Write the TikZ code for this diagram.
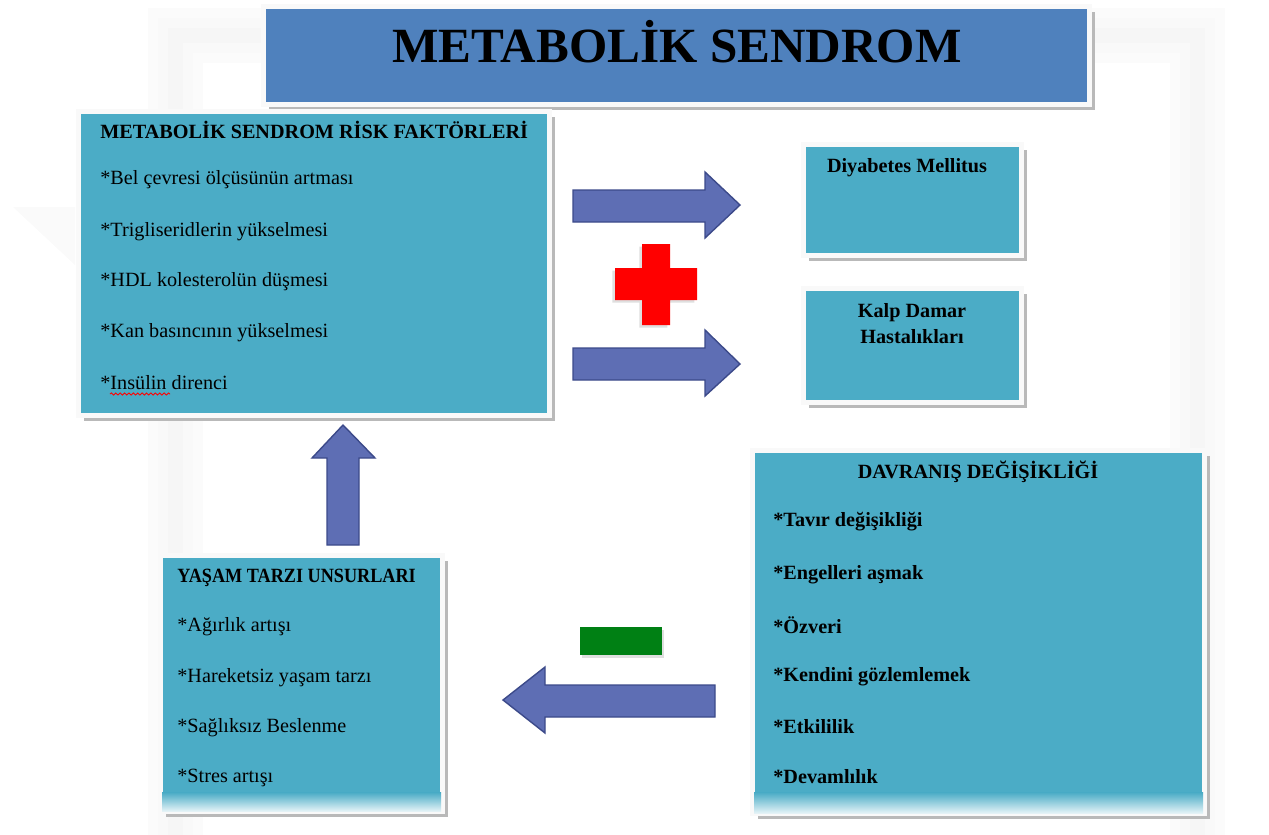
\documentclass[tikz,border=0pt]{standalone}
\usepackage{fontspec}
\setmainfont{Liberation Serif}
\newfontfamily\narrowserif[FakeStretch=0.9]{Liberation Serif}
\usetikzlibrary{shadows,decorations.pathmorphing}

\definecolor{titleblue}{RGB}{79,129,189}
\definecolor{panelteal}{RGB}{75,172,198}
\definecolor{arrowblue}{RGB}{94,110,180}
\definecolor{arrowedge}{RGB}{60,74,138}
\definecolor{minusgreen}{RGB}{0,128,20}

\tikzset{
  panel/.style={rectangle, inner sep=0pt, fill=panelteal, draw=white!95!gray, line width=3pt,
    drop shadow={shadow xshift=3pt, shadow yshift=-3pt, fill=gray!55, opacity=1}},
  blockarrow/.style={fill=arrowblue, draw=arrowedge, line width=0.8pt, line join=miter},
  itemtext/.style={anchor=west, inner sep=0pt, font=\fontsize{11.5}{14}\selectfont},
  headtext/.style={itemtext, font=\fontsize{11.5}{14}\selectfont\bfseries},
}

\begin{document}
\begin{tikzpicture}

  % Layout (1 px of the sheet = 0.02 cm, y downward):
  %  Title        : x  5.30--21.76, y -0.16 -- -2.06
  %  Risk panel   : x  1.60--10.96, y -2.26 -- -8.28
  %  Disease boxes: x 16.10--20.40, y -2.92 -- -5.08 / -5.80 -- -8.02
  %  Lifestyle    : x  3.24-- 8.82, y -11.14 -- -16.20
  %  Behaviour    : x 15.08--24.06, y -9.04 -- -16.24
  \useasboundingbox (0,0) rectangle (25.38,-16.68);

  % Soft background frame
  \draw[gray!3, line width=1.1cm] (3.50,-0.70) rectangle (23.95,-17.6);
  \draw[gray!5, line width=0.7cm] (3.50,-0.70) rectangle (23.95,-17.6);
  \draw[gray!7, line width=0.3cm] (3.50,-0.70) rectangle (23.95,-17.6);
  \fill[gray!4] (0.26,-4.14) -- (1.50,-4.14) -- (1.50,-5.30) -- cycle;

  % Panels
  \node[panel, fill=titleblue, minimum width=16.53cm, minimum height=1.97cm] (title) at (13.53,-1.11) {};
  \node[panel, minimum width=9.43cm, minimum height=6.09cm] (risk) at (6.28,-5.27) {};
  \node[panel, minimum width=4.37cm, minimum height=2.23cm] (diab) at (18.25,-4.00) {};
  \node[panel, minimum width=4.37cm, minimum height=2.29cm] (kalp) at (18.25,-6.91) {};
  \node[panel, minimum width=5.65cm, minimum height=5.13cm] (life) at (6.03,-13.67) {};
  \node[panel, minimum width=9.05cm, minimum height=7.27cm] (davr) at (19.57,-12.64) {};

  % Faded bottoms
  \shade[top color=panelteal, bottom color=white!85!panelteal] (3.24,-15.85) rectangle (8.82,-16.22);
  \shade[top color=panelteal, bottom color=white!85!panelteal] (15.08,-15.85) rectangle (24.06,-16.26);

  % Title
  \node[font=\fontsize{28}{30}\selectfont\bfseries] (titletxt) at (13.54,-0.84) {METABOLİK SENDROM};

  % Risk factors
  \node[headtext] (riskhd) at (2.00,-2.60) {METABOLİK SENDROM RİSK FAKTÖRLERİ};
  \node[itemtext] (risk1) at (2.00,-3.60) {*Bel çevresi ölçüsünün artması};
  \node[itemtext] (risk2) at (2.00,-4.64) {*Trigliseridlerin yükselmesi};
  \node[itemtext] (risk3) at (2.00,-5.64) {*HDL kolesterolün düşmesi};
  \node[itemtext] (risk4) at (2.00,-6.66) {*Kan basıncının yükselmesi};
  \node[itemtext] (risk5) at (2.00,-7.66) {*Insülin direnci};
  \draw[red, line width=0.5pt, decorate, decoration={snake, amplitude=0.6pt, segment length=2.5pt}]
    (2.20,-7.88) -- (3.40,-7.88);

  % Diseases
  \node[font=\fontsize{11.5}{14}\selectfont\bfseries] (diabtxt) at (18.14,-3.36) {Diyabetes Mellitus};
  \node[font=\fontsize{11.5}{15}\selectfont\bfseries, align=center] (kalptxt) at (18.24,-6.47)
    {Kalp Damar\\Hastalıkları};

  % Lifestyle
  \node[headtext, font=\fontsize{11.5}{14}\narrowserif\bfseries] (lifehd) at (3.54,-11.56) {YAŞAM TARZI UNSURLARI};
  \node[itemtext] (life1) at (3.54,-12.54) {*Ağırlık artışı};
  \node[itemtext] (life2) at (3.54,-13.56) {*Hareketsiz yaşam tarzı};
  \node[itemtext] (life3) at (3.54,-14.56) {*Sağlıksız Beslenme};
  \node[itemtext] (life4) at (3.54,-15.56) {*Stres artışı};

  % Behaviour change
  \node[font=\fontsize{11.5}{14}\selectfont\bfseries] (davrhd) at (19.56,-9.44) {DAVRANIŞ DEĞİŞİKLİĞİ};
  \node[headtext] (davr1) at (15.46,-10.44) {*Tavır değişikliği};
  \node[headtext] (davr2) at (15.46,-11.50) {*Engelleri aşmak};
  \node[headtext] (davr3) at (15.46,-12.50) {*Özveri};
  \node[headtext] (davr4) at (15.46,-13.54) {*Kendini gözlemlemek};
  \node[headtext] (davr5) at (15.46,-14.54) {*Etkililik};
  \node[headtext] (davr6) at (15.46,-15.54) {*Devamlılık};

  % Block arrows
  \filldraw[blockarrow] (11.46,-3.80) -- (14.10,-3.80) -- (14.10,-3.44) -- (14.80,-4.10)
    -- (14.10,-4.76) -- (14.10,-4.44) -- (11.46,-4.44) -- cycle; % to diabetes
  \filldraw[blockarrow] (11.46,-6.96) -- (14.10,-6.96) -- (14.10,-6.60) -- (14.80,-7.28)
    -- (14.10,-7.92) -- (14.10,-7.60) -- (11.46,-7.60) -- cycle; % to heart
  \filldraw[blockarrow] (6.54,-10.90) -- (6.54,-9.16) -- (6.24,-9.16) -- (6.86,-8.50)
    -- (7.50,-9.16) -- (7.18,-9.16) -- (7.18,-10.90) -- cycle; % lifestyle up
  \filldraw[blockarrow] (14.30,-13.70) -- (10.90,-13.70) -- (10.90,-13.34) -- (10.06,-14.00)
    -- (10.90,-14.66) -- (10.90,-14.34) -- (14.30,-14.34) -- cycle; % behaviour left

  % Plus and minus signs
  \fill[red, drop shadow={shadow xshift=-1.5pt, shadow yshift=-1.5pt, fill=gray!50}]
    (12.84,-4.88) -- (13.40,-4.88) -- (13.40,-5.36) -- (13.94,-5.36) -- (13.94,-6.00)
    -- (13.40,-6.00) -- (13.40,-6.50) -- (12.84,-6.50) -- (12.84,-6.00) -- (12.30,-6.00)
    -- (12.30,-5.36) -- (12.84,-5.36) -- cycle;
  \fill[minusgreen, drop shadow={shadow xshift=1pt, shadow yshift=-1.5pt, fill=gray!50}]
    (11.60,-12.54) rectangle (13.24,-13.10);

\end{tikzpicture}
\end{document}
